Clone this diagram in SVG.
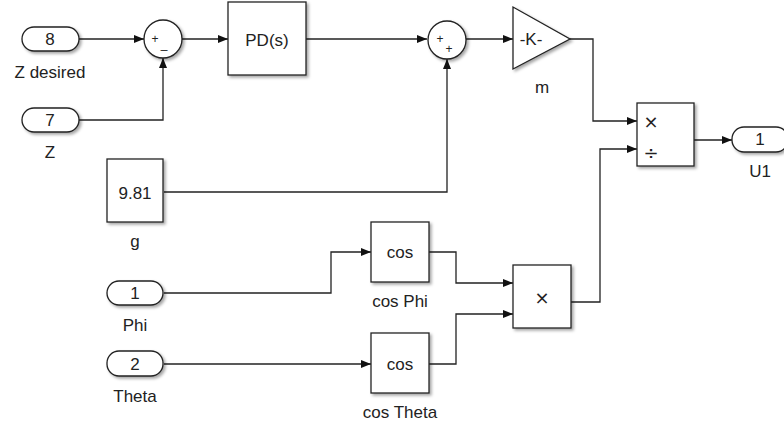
<svg xmlns="http://www.w3.org/2000/svg" width="784" height="429" viewBox="0 0 784 429">
<style>
.blk{fill:#fff;stroke:#222;stroke-width:1.3;filter:url(#sh)}
.w{fill:none;stroke:#222;stroke-width:1.3}
.t{font-family:"Liberation Sans",Arial,sans-serif;font-size:17px;fill:#222;text-anchor:middle}
.s{font-family:"Liberation Sans",Arial,sans-serif;font-size:12px;fill:#222;text-anchor:middle}
.x{font-family:"DejaVu Sans",sans-serif;font-size:18px;fill:#222;text-anchor:middle}
</style>
<defs>
<filter id="sh" x="-20%" y="-20%" width="150%" height="150%">
<feDropShadow dx="2" dy="2" stdDeviation="1.5" flood-color="#000" flood-opacity="0.35"/>
</filter>
<marker id="a" viewBox="0 0 10 8" refX="10" refY="4" markerWidth="10" markerHeight="8" markerUnits="userSpaceOnUse" orient="auto">
<path d="M0,0 L10,4 L0,8 Z" fill="#111"/>
</marker>
</defs>
<rect width="784" height="429" fill="#fff"/>
<g id="connectors">
<path class="w" d="M79,39 H144" marker-end="url(#a)"/>
<path class="w" d="M79,120 H163 V58" marker-end="url(#a)"/>
<path class="w" d="M182,39 H228" marker-end="url(#a)"/>
<path class="w" d="M306,39 H427" marker-end="url(#a)"/>
<path class="w" d="M164,192 H447 V59" marker-end="url(#a)"/>
<path class="w" d="M466,39 H513" marker-end="url(#a)"/>
<path class="w" d="M570,39 H593 V121 H637" marker-end="url(#a)"/>
<path class="w" d="M571,302 H600 V149 H637" marker-end="url(#a)"/>
<path class="w" d="M694,140 H732" marker-end="url(#a)"/>
<path class="w" d="M164,293 H331 V252 H371" marker-end="url(#a)"/>
<path class="w" d="M164,364 H371" marker-end="url(#a)"/>
<path class="w" d="M429,252 H456 V283 H513" marker-end="url(#a)"/>
<path class="w" d="M429,364 H456 V314 H513" marker-end="url(#a)"/>
</g>
<g id="in8">
<rect class="blk" x="22" y="27" width="57" height="24" rx="12"/>
<text class="t" x="50" y="45">8</text>
<text class="t" x="50" y="78">Z desired</text>
</g>
<g id="in7">
<rect class="blk" x="22" y="108" width="57" height="24" rx="12"/>
<text class="t" x="50" y="126">7</text>
<text class="t" x="50" y="158">Z</text>
</g>
<g id="sum1">
<circle class="blk" cx="163" cy="39" r="19"/>
<text class="s" x="155" y="43">+</text>
<text class="s" x="164" y="48">_</text>
</g>
<g id="pd">
<rect class="blk" x="228" y="2" width="78" height="73"/>
<text class="t" x="267" y="46">PD(s)</text>
</g>
<g id="sum2">
<circle class="blk" cx="447" cy="40" r="19"/>
<text class="s" x="440" y="43">+</text>
<text class="s" x="449" y="53">+</text>
</g>
<g id="gain">
<path class="blk" d="M513,7 L513,69 L570,39 Z"/>
<text class="t" x="531" y="45">-K-</text>
<text class="t" x="542" y="93">m</text>
</g>
<g id="divide">
<rect class="blk" x="637" y="103" width="57" height="63"/>
<text class="x" x="651" y="128">×</text>
<text class="x" x="651" y="159">÷</text>
</g>
<g id="out1">
<rect class="blk" x="732" y="127" width="56" height="25" rx="12"/>
<text class="t" x="760" y="145">1</text>
<text class="t" x="760" y="177">U1</text>
</g>
<g id="g">
<rect class="blk" x="107" y="159" width="56" height="63"/>
<text class="t" x="135" y="199">9.81</text>
<text class="t" x="135" y="247">g</text>
</g>
<g id="in1">
<rect class="blk" x="107" y="281" width="56" height="24" rx="12"/>
<text class="t" x="135" y="299">1</text>
<text class="t" x="135" y="331">Phi</text>
</g>
<g id="in2">
<rect class="blk" x="107" y="351" width="56" height="25" rx="12"/>
<text class="t" x="135" y="370">2</text>
<text class="t" x="135" y="402">Theta</text>
</g>
<g id="cosphi">
<rect class="blk" x="371" y="222" width="58" height="60"/>
<text class="t" x="400" y="258">cos</text>
<text class="t" x="400" y="307">cos Phi</text>
</g>
<g id="costheta">
<rect class="blk" x="371" y="333" width="58" height="60"/>
<text class="t" x="400" y="370">cos</text>
<text class="t" x="400" y="418">cos Theta</text>
</g>
<g id="product">
<rect class="blk" x="513" y="265" width="58" height="63"/>
<text class="x" x="542" y="304">×</text>
</g>
</svg>
